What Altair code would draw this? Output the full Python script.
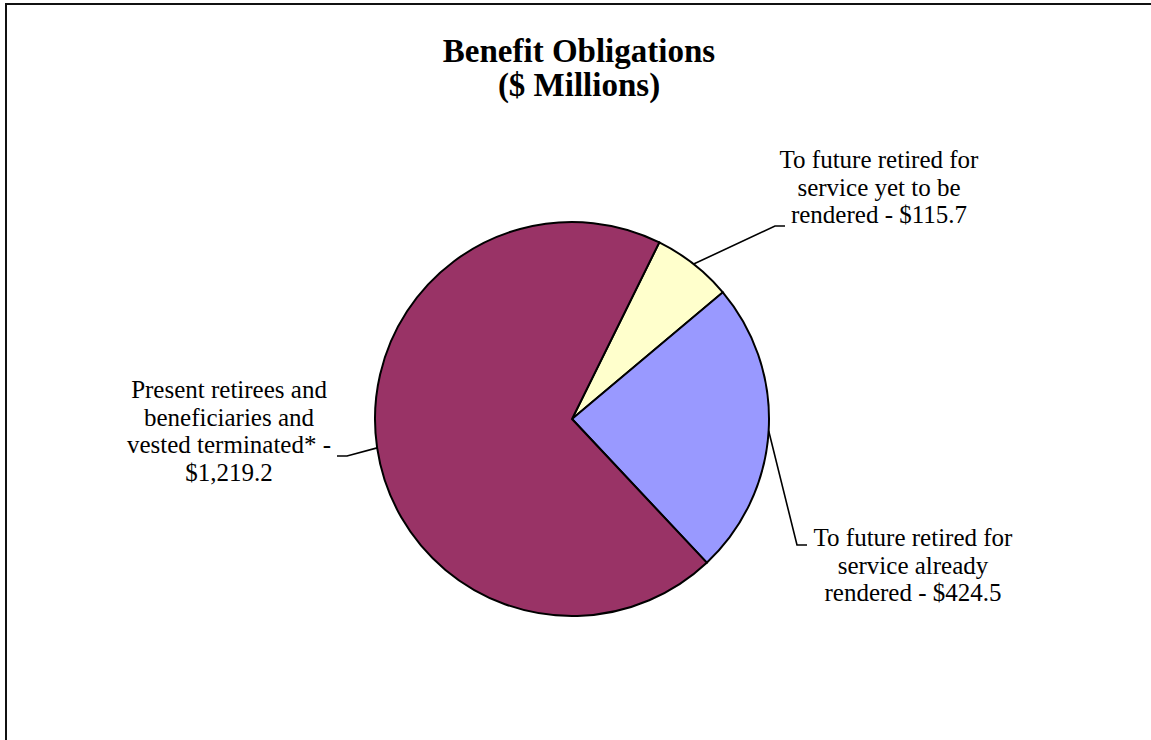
import math
import altair as alt
import pandas as pd

# ---- data ----
SLICES = ["To future retired for service yet to be rendered",
          "To future retired for service already rendered",
          "Present retirees and beneficiaries and vested terminated*"]
VALUES = [115.7, 424.5, 1219.2]
LABELS = ["To future retired for\nservice yet to be\nrendered - $115.7",
          "To future retired for\nservice already\nrendered - $424.5",
          "Present retirees and\nbeneficiaries and\nvested terminated* -\n$1,219.2"]
COLORS = ["#FFFFCC", "#9999FF", "#993366"]
TITLE_LINES = ["Benefit Obligations", "($ Millions)"]

# ---- layout (pixels) ----
W, H = 1151, 740
CX, CY, R = 572, 419, 197
START = math.radians(26.3)
# label anchor (center x, first baseline y), leader elbow and end
LABEL_POS = [(879, 168), (913, 546), (229, 398)]
ELBOW = [(775, 226), (797, 545), (347, 456)]
END = [(785, 226), (807, 545), (337, 456)]
FONT = "Liberation Serif"

total = sum(VALUES)
pie_df = pd.DataFrame({"slice": SLICES, "value": VALUES, "idx": list(range(len(SLICES)))})

# leader lines start at each slice's mid angle
rows = []
cum = 0.0
for i, v in enumerate(VALUES):
    mid = START + 2 * math.pi * (cum + v / 2) / total
    cum += v
    sx = CX + R * math.sin(mid)
    sy = CY - R * math.cos(mid)
    rows.append({"slice": SLICES[i], "k": 0, "x": sx, "y": sy})
    rows.append({"slice": SLICES[i], "k": 1, "x": ELBOW[i][0], "y": ELBOW[i][1]})
    rows.append({"slice": SLICES[i], "k": 2, "x": END[i][0], "y": END[i][1]})
leader_df = pd.DataFrame(rows)

label_df = pd.DataFrame({"label": LABELS,
                         "x": [p[0] for p in LABEL_POS],
                         "y": [p[1] for p in LABEL_POS]})
title_df = pd.DataFrame({"t": ["\n".join(TITLE_LINES)]})

pie = alt.Chart(pie_df).mark_arc(outerRadius=R, stroke="black", strokeWidth=2).encode(
    theta=alt.Theta("value:Q", stack=True,
                    scale=alt.Scale(range=[START, START + 2 * math.pi])),
    color=alt.Color("slice:N", scale=alt.Scale(domain=SLICES, range=COLORS), legend=None),
    order=alt.Order("idx:Q"),
    x=alt.value(CX), y=alt.value(CY),
)

leaders = alt.Chart(leader_df).mark_line(color="black", strokeWidth=1.6).encode(
    x=alt.X("x:Q", scale=None, axis=None),
    y=alt.Y("y:Q", scale=None, axis=None),
    detail="slice:N",
    order="k:Q",
)

labels = alt.Chart(label_df).mark_text(
    font=FONT, fontSize=25, align="center", baseline="alphabetic",
    lineBreak="\n", lineHeight=27.5, color="black"
).encode(
    x=alt.X("x:Q", scale=None, axis=None),
    y=alt.Y("y:Q", scale=None, axis=None),
    text="label:N",
)

title = alt.Chart(title_df).mark_text(
    font=FONT, fontSize=33, fontWeight="bold", align="center", baseline="alphabetic",
    lineBreak="\n", lineHeight=34, color="black"
).encode(x=alt.value(579), y=alt.value(62), text="t:N")

border_top = alt.Chart(title_df).mark_rule(color="#111111", strokeWidth=2).encode(
    x=alt.value(5), x2=alt.value(W), y=alt.value(4))
border_left = alt.Chart(title_df).mark_rule(color="#111111", strokeWidth=2).encode(
    x=alt.value(6), y=alt.value(3), y2=alt.value(H))

chart = alt.layer(border_top, border_left, pie, leaders, labels, title).properties(
    width=W, height=H, padding=0,
    autosize=alt.AutoSizeParams(type="none"),
    background="white",
).configure_view(stroke=None)

chart.save("out.html", embed_options={"renderer": "svg", "actions": False})
